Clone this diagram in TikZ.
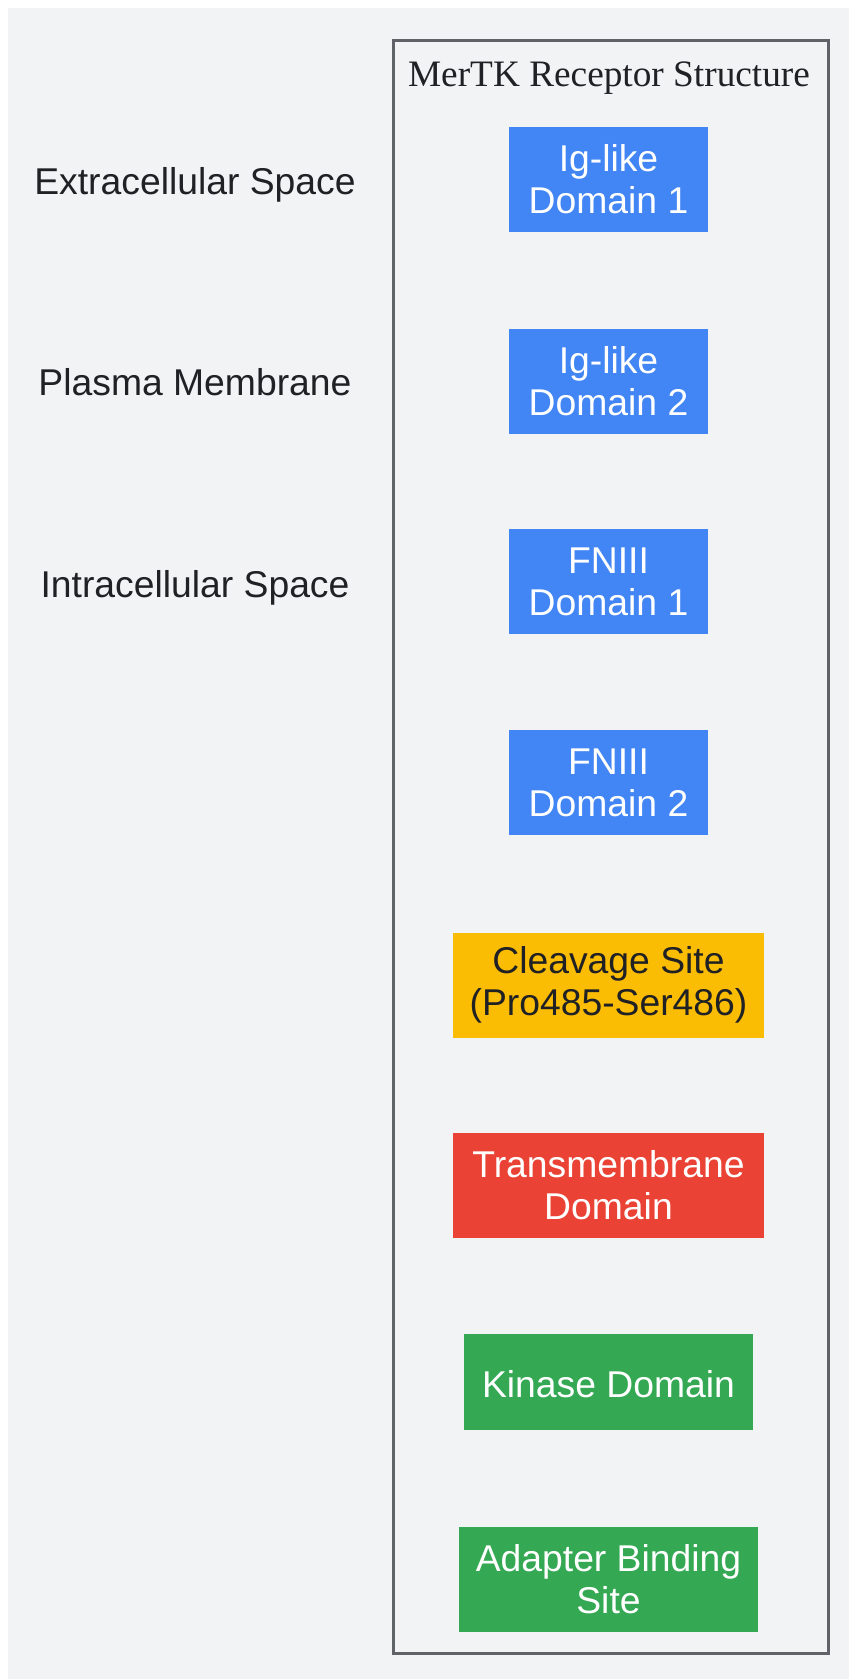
\documentclass[tikz,border=0pt]{standalone}
\usepackage{fontspec}
\setmainfont{Liberation Sans}
\newfontfamily\titlefont{Liberation Serif}
\usepackage{tikz}

\definecolor{bgcol}{HTML}{F1F3F4}
\definecolor{framecol}{HTML}{5F6368}
\definecolor{inkcol}{HTML}{202124}
\definecolor{gblue}{HTML}{4285F4}
\definecolor{gyellow}{HTML}{FBBC04}
\definecolor{gred}{HTML}{EA4335}
\definecolor{ggreen}{HTML}{34A853}

\begin{document}
\begin{tikzpicture}[
    x=1pt, y=-1pt,
    every node/.style={inner sep=0pt, font=\fontsize{37.3}{42}\selectfont, text=inkcol},
    domainbox/.style={rectangle, align=center, minimum height=105, text=white,
        execute at begin node={\rule{0pt}{#1}}},
    domainbox/.default=37pt,
    region/.style={anchor=base}
]
    \useasboundingbox (0,0) rectangle (849,1679);
    \fill[bgcol] (8,8) rectangle (849,1679);
    \node (frame) [draw=framecol, line width=3pt, minimum width=435, minimum height=1613] at (610.5,846.5) {};
    \node (title) [anchor=base, font=\titlefont\fontsize{37.3}{42}\selectfont] at (609,86) {MerTK Receptor Structure};
    \node (extra) [region] at (195,194) {Extracellular Space};
    \node (plasma) [region] at (195,395) {Plasma Membrane};
    \node (intra) [region] at (195,597) {Intracellular Space};
    \node (ig1) [domainbox, fill=gblue, minimum width=199] at (608.5,179) {Ig-like\\Domain 1};
    \node (ig2) [domainbox, fill=gblue, minimum width=199] at (608.5,381) {Ig-like\\Domain 2};
    \node (fn1) [domainbox, fill=gblue, minimum width=199] at (608.5,581.5) {FNIII\\Domain 1};
    \node (fn2) [domainbox, fill=gblue, minimum width=199] at (608.5,782.5) {FNIII\\Domain 2};
    \node (cleave) [domainbox, fill=gyellow, text=inkcol, minimum width=311] at (608.5,985) {Cleavage Site\\(Pro485-Ser486)};
    \node (tm) [domainbox, fill=gred, minimum width=311] at (608.5,1185.5) {Transmembrane\\Domain};
    \node (kinase) [domainbox=31pt, fill=ggreen, minimum width=289, minimum height=96] at (608.5,1382) {Kinase Domain};
    \node (adapter) [domainbox, fill=ggreen, minimum width=299] at (608.5,1579.5) {Adapter Binding\\Site};
\end{tikzpicture}
\end{document}
